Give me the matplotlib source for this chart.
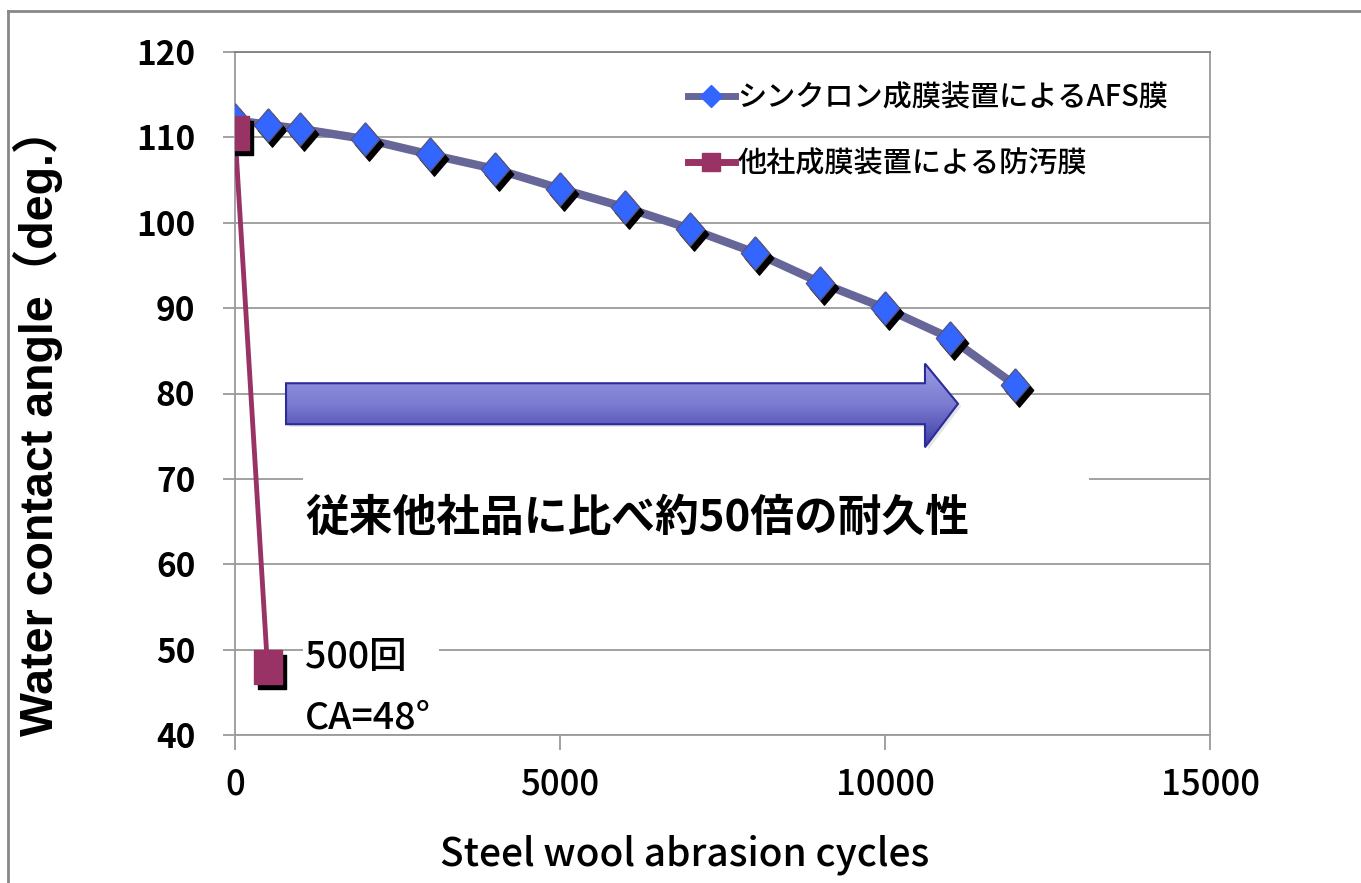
import numpy as np
import matplotlib
matplotlib.use("Agg")
import matplotlib.pyplot as plt
from matplotlib.lines import Line2D
from matplotlib.patches import Polygon, Rectangle
from matplotlib.transforms import offset_copy

plt.rcParams['font.family'] = ['Noto Sans CJK JP', 'DejaVu Sans']

# data
cycles_afs = [0, 500, 1000, 2000, 3000, 4000, 5000, 6000, 7000, 8000, 9000, 10000, 11000, 12000]
angle_afs = [112, 111.5, 111, 109.8, 108, 106.3, 104, 101.8, 99.3, 96.5, 93, 90, 86.5, 81]
cycles_other = [0, 500]
angle_other = [110.5, 48]
labels = ['シンクロン成膜装置によるAFS膜', '他社成膜装置による防汚膜']
xticks = [0, 5000, 10000, 15000]
yticks = [40, 50, 60, 70, 80, 90, 100, 110, 120]

blue = '#3366FF'
slate = '#666699'
plum = '#993366'
grid_c = '#9a9a9a'

# vertically stretched markers (the original picture is squashed)
diamond = [(0, 1), (0.85, 0), (0, -1), (-0.85, 0), (0, 1)]
rect = [(-0.85, -1), (0.85, -1), (0.85, 1), (-0.85, 1), (-0.85, -1)]

fig = plt.figure(figsize=(13.61, 8.83), dpi=100)
ax = fig.add_axes([235/1361, 1-735/883, 975/1361, 683/883])

ax.set_xlim(0, 15000)
ax.set_ylim(40, 120)
ax.set_xticks(xticks)
ax.set_yticks(yticks)
ax.grid(axis='y', color=grid_c, lw=1.3, zorder=0.5)
ax.set_axisbelow(True)
for s in ax.spines.values():
    s.set_color(grid_c)
    s.set_linewidth(1.3)
ax.spines['top'].set_color('#808080')
ax.tick_params(axis='x', length=11, width=1.3, color=grid_c, pad=12, labelsize=25)
ax.tick_params(axis='y', length=8.6, width=1.3, color=grid_c, pad=20, labelsize=24)
for lab in ax.get_yticklabels():
    lab.set_fontweight('bold')
for lab in ax.get_xticklabels():
    lab.set_fontweight('medium')

# white boxes behind the text annotations (hide gridlines)
ax.add_patch(Rectangle((1046, 62.5), 12100, 8.7, facecolor='white', edgecolor='none', zorder=1))
ax.add_patch(Rectangle((1046, 40.8), 2100, 10.2, facecolor='white', edgecolor='none', zorder=1))

# gradient arrow
arrow_pts = np.array([(785, 76.4), (10615, 76.4), (10615, 73.7), (11123, 78.8),
                      (10615, 83.5), (10615, 81.2), (785, 81.2)])
shadow = Polygon(arrow_pts + np.array([50, -0.3]), closed=True, facecolor='#cccccc',
                 edgecolor='none', alpha=0.5, zorder=1.5)
ax.add_patch(shadow)
arr = Polygon(arrow_pts, closed=True, facecolor='none', edgecolor='#2b2b99', lw=1.5, zorder=2.2)
ax.add_patch(arr)
grad = np.linspace(0, 1, 256).reshape(-1, 1)
cmap = matplotlib.colors.LinearSegmentedColormap.from_list('arr', ['#9d9de6', '#7a7ad0', '#3c3ca4'])
im = ax.imshow(grad, cmap=cmap, aspect='auto', extent=(785, 11123, 73.7, 83.5),
               origin='upper', zorder=2.1)
im.set_clip_path(arr)
ax.set_xlim(0, 15000)
ax.set_ylim(40, 120)

# series
sh_tr = offset_copy(ax.transData, fig=fig, x=4, y=-5, units='dots')
ax.plot(cycles_afs, angle_afs, color=slate, lw=6, zorder=3, solid_capstyle='round')
ax.plot(cycles_afs, angle_afs, ls='none', marker=diamond, ms=24, color='black',
        transform=sh_tr, zorder=3.1)
ax.plot(cycles_afs, angle_afs, ls='none', marker=diamond, ms=24, mfc=blue,
        mec='#55558a', mew=1, zorder=3.2)

ax.plot(cycles_other, angle_other, color=plum, lw=3.5, zorder=4)
ax.plot(cycles_other, angle_other, ls='none', marker=rect, ms=24.5, color='black',
        transform=sh_tr, zorder=4.1)
ax.plot(cycles_other, angle_other, ls='none', marker=rect, ms=24.5, mfc=plum,
        mec=plum, zorder=4.2)

# texts
ax.text(1077, 65.5, '従来他社品に比べ約50倍の耐久性', fontsize=31.5, fontweight='bold',
        va='center', ha='left', zorder=5)
ax.text(1077, 49.1, '500回', fontsize=27, fontweight='medium', va='center', ha='left', zorder=5)
ax.text(1077, 42.0, 'CA=48°', fontsize=27, fontweight='medium', va='center', ha='left', zorder=5)

ax.set_xlabel('Steel wool abrasion cycles', fontsize=28, fontweight='medium')
ax.xaxis.set_label_coords(0.4615, -0.145)
ax.set_ylabel('Water contact angle（deg.）', fontsize=33.5, fontweight='bold',
              family=['Liberation Sans', 'Noto Sans CJK JP'])
ax.yaxis.set_label_coords(-0.176, 0.46)

# legend
handles = [
    Line2D([], [], color=slate, lw=5, marker='D', ms=11, mfc=blue, mec=blue),
    Line2D([], [], color=plum, lw=5, marker='s', ms=13, mfc=plum, mec=plum),
]
fig.legend(handles, labels, loc='upper left', bbox_to_anchor=(688/1361, 1-82/883),
           frameon=False, prop={'size': 21, 'weight': 'medium'}, handlelength=1.6,
           handletextpad=0.1, labelspacing=1.2, borderpad=0, borderaxespad=0)

# outer frame of the original slide
fig.add_artist(Line2D([8/1361, 1], [1-11/883, 1-11/883], color='#888888', lw=2))
fig.add_artist(Line2D([8/1361, 8/1361], [0, 1-11/883], color='#888888', lw=2))

fig.savefig('out.png', dpi=100)
